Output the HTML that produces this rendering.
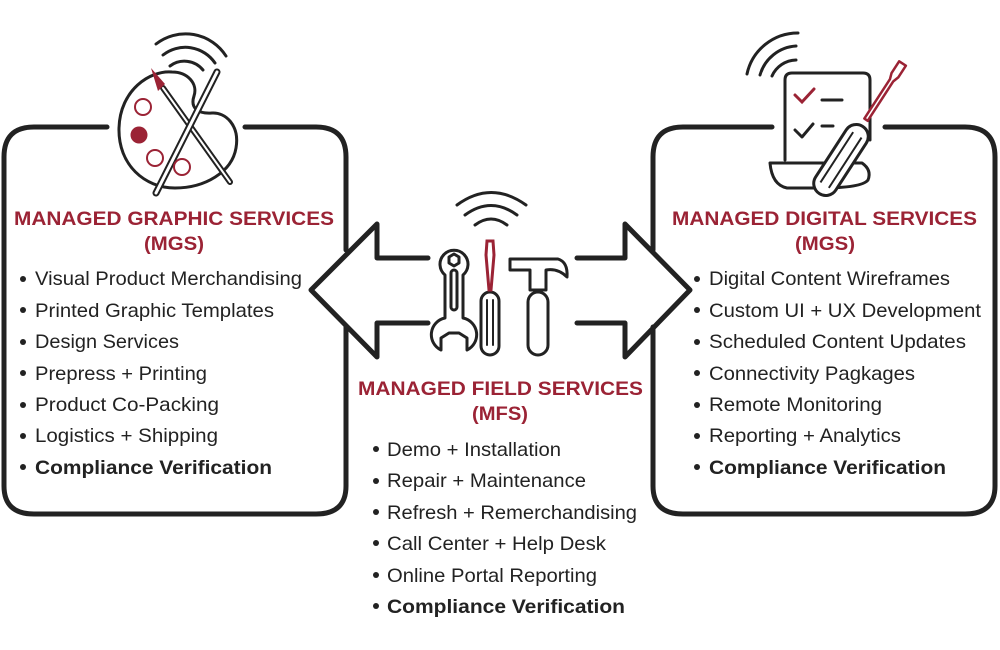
<!DOCTYPE html>
<html><head><meta charset="utf-8"><style>
html,body{margin:0;padding:0;background:#fff;width:1000px;height:650px;overflow:hidden}
text{font-family:"Liberation Sans",Arial,sans-serif}
.t{font-weight:bold;fill:#9b2335;font-size:19px}
.b{fill:#222;font-size:19.5px}
.bb{fill:#222;font-size:19.5px;font-weight:bold}
</style></head><body>
<svg width="1000" height="650" viewBox="0 0 1000 650" xmlns="http://www.w3.org/2000/svg">
<g fill="none" stroke="#222" stroke-width="5" stroke-linecap="round" stroke-linejoin="round">
<path d="M107 127 H34 Q4 127 4 157 V486 Q4 514 34 514 H316 Q346 514 346 486 V327"/>
<path d="M245 127 H316 Q346 127 346 157 V250"/>
<path d="M772 127 H683 Q653 127 653 157 V250"/>
<path d="M653 327 V486 Q653 514 683 514 H965 Q995 514 995 486 V157 Q995 127 965 127 H885"/>
<path d="M428 258 H377 V224 L311 290 L377 357 V323 H428"/>
<path d="M577 258 H625 V224 L690 290 L625 357 V323 H577"/>
</g>
<!-- left icon: palette -->
<g fill="none" stroke="#222" stroke-width="3" stroke-linecap="round">
<path d="M172 72 C150 70 120 90 119 128 C118 165 145 188 175 188 C205 188 232 172 236 148 C240 125 225 112 212 113 C198 114 190 108 194 96 C198 84 188 72 172 72 Z"/>
<path d="M156 44 A48 48 0 0 1 226 56"/>
<path d="M163 55 A36 36 0 0 1 215 63"/>
<path d="M170 66 A24 24 0 0 1 203 70"/>
<path d="M163 88 L230 182" stroke-width="6"/>
<path d="M163 88 L230 182" stroke="#fff" stroke-width="2"/>
<path d="M217 72 L156 193" stroke-width="7"/>
<path d="M217 72 L156 193" stroke="#fff" stroke-width="3"/>
</g>
<path d="M151 68 L165 84 L158 91 Z" fill="#9b2335"/>
<g fill="none" stroke="#9b2335" stroke-width="2">
<circle cx="143" cy="107" r="8"/><circle cx="155" cy="158" r="8"/><circle cx="182" cy="167" r="8"/>
</g>
<circle cx="139" cy="135" r="8.5" fill="#9b2335"/>
<!-- center tools -->
<g fill="none" stroke="#222" stroke-width="3" stroke-linecap="round" stroke-linejoin="round">
<path d="M457 205 Q491 180 526 205"/>
<path d="M465 215 Q491 196 517 215"/>
<path d="M475 225 Q491 213 507 225"/>
<path d="M445 275 A14 14 0 1 1 463 275 V318 A17 17 0 0 1 467 350 V338 L459 333 L449 333 L441 338 V350 A17 17 0 0 1 445 318 Z"/>
<rect x="451" y="270" width="6" height="40" rx="3"/>
<path d="M449 257 L454 254 L459 257 V263 L454 266 L449 263 Z"/>
<rect x="481" y="292" width="18" height="63" rx="9"/>
<path d="M487 300 V345 M493 300 V345" stroke-width="2"/>
<path d="M510 259 H558 Q568 262 567 277 Q558 268 546 270 V290 H530 V270 H510 Z"/>
<rect x="528" y="292" width="20" height="63" rx="10"/>
</g>
<path d="M487 241 H493 L494 255 L491 290 H489 L486 255 Z" fill="none" stroke="#9b2335" stroke-width="3"/>
<!-- right icon -->
<g fill="none" stroke="#222" stroke-width="3" stroke-linecap="round" stroke-linejoin="round">
<path d="M747 74 A52 52 0 0 1 798 33"/>
<path d="M760 75 A40 40 0 0 1 796 46"/>
<path d="M772 76 A27 27 0 0 1 796 60"/>
<path d="M785 160 V80 Q785 73 792 73 H863 Q870 73 870 80 V140"/>
<path d="M770 163 H862 Q872 170 868 180 Q862 188 820 188 H787 Q772 185 770 163 Z"/>
<path d="M822 100 H842 M822 126 H833"/>
<path d="M795 130 L802 137 L813 124"/>
</g>
<path d="M795 95 L802 102 L814 89" fill="none" stroke="#9b2335" stroke-width="3" stroke-linecap="round"/>
<g transform="rotate(33 884 92)">
<path d="M880 58 H888 V72 L886 78 V125 H882 V78 L880 72 Z" fill="#fff" stroke="#9b2335" stroke-width="2.5" stroke-linejoin="round"/>
</g>
<g transform="rotate(33 841 160)" fill="none" stroke="#222" stroke-width="3">
<rect x="829" y="120" width="24" height="80" rx="12" fill="#fff"/>
<path d="M836 130 V190 M846 130 V190" stroke-width="2"/>
</g>
<!-- titles -->
<text class="t" x="14" y="225" textLength="320" lengthAdjust="spacingAndGlyphs">MANAGED GRAPHIC SERVICES</text>
<text class="t" x="144" y="250" textLength="60" lengthAdjust="spacingAndGlyphs">(MGS)</text>
<text class="t" x="672" y="225" textLength="305" lengthAdjust="spacingAndGlyphs">MANAGED DIGITAL SERVICES</text>
<text class="t" x="795" y="250" textLength="60" lengthAdjust="spacingAndGlyphs">(MGS)</text>
<text class="t" x="358" y="395" textLength="285" lengthAdjust="spacingAndGlyphs">MANAGED FIELD SERVICES</text>
<text class="t" x="472" y="420" textLength="56" lengthAdjust="spacingAndGlyphs">(MFS)</text>
<g fill="#222">
<circle cx="23" cy="279" r="3"/><circle cx="23" cy="310" r="3"/><circle cx="23" cy="342" r="3"/><circle cx="23" cy="373" r="3"/><circle cx="23" cy="405" r="3"/><circle cx="23" cy="436" r="3"/><circle cx="23" cy="467" r="3"/>
<circle cx="697" cy="279" r="3"/><circle cx="697" cy="310" r="3"/><circle cx="697" cy="342" r="3"/><circle cx="697" cy="373" r="3"/><circle cx="697" cy="405" r="3"/><circle cx="697" cy="436" r="3"/><circle cx="697" cy="467" r="3"/>
<circle cx="376" cy="449" r="3"/><circle cx="376" cy="481" r="3"/><circle cx="376" cy="512" r="3"/><circle cx="376" cy="543" r="3"/><circle cx="376" cy="575" r="3"/><circle cx="376" cy="606" r="3"/>
</g>
<text class="b" x="35" y="285" textLength="267" lengthAdjust="spacingAndGlyphs">Visual Product Merchandising</text>
<text class="b" x="35" y="317" textLength="239" lengthAdjust="spacingAndGlyphs">Printed Graphic Templates</text>
<text class="b" x="35" y="348" textLength="144" lengthAdjust="spacingAndGlyphs">Design Services</text>
<text class="b" x="35" y="380" textLength="172" lengthAdjust="spacingAndGlyphs">Prepress + Printing</text>
<text class="b" x="35" y="411" textLength="184" lengthAdjust="spacingAndGlyphs">Product Co-Packing</text>
<text class="b" x="35" y="442" textLength="183" lengthAdjust="spacingAndGlyphs">Logistics + Shipping</text>
<text class="bb" x="35" y="474" textLength="237" lengthAdjust="spacingAndGlyphs">Compliance Verification</text>
<text class="b" x="709" y="285" textLength="241" lengthAdjust="spacingAndGlyphs">Digital Content Wireframes</text>
<text class="b" x="709" y="317" textLength="272" lengthAdjust="spacingAndGlyphs">Custom UI + UX Development</text>
<text class="b" x="709" y="348" textLength="257" lengthAdjust="spacingAndGlyphs">Scheduled Content Updates</text>
<text class="b" x="709" y="380" textLength="206" lengthAdjust="spacingAndGlyphs">Connectivity Pagkages</text>
<text class="b" x="709" y="411" textLength="173" lengthAdjust="spacingAndGlyphs">Remote Monitoring</text>
<text class="b" x="709" y="442" textLength="192" lengthAdjust="spacingAndGlyphs">Reporting + Analytics</text>
<text class="bb" x="709" y="474" textLength="237" lengthAdjust="spacingAndGlyphs">Compliance Verification</text>
<text class="b" x="387" y="456" textLength="174" lengthAdjust="spacingAndGlyphs">Demo + Installation</text>
<text class="b" x="387" y="487" textLength="199" lengthAdjust="spacingAndGlyphs">Repair + Maintenance</text>
<text class="b" x="387" y="519" textLength="250" lengthAdjust="spacingAndGlyphs">Refresh + Remerchandising</text>
<text class="b" x="387" y="550" textLength="219" lengthAdjust="spacingAndGlyphs">Call Center + Help Desk</text>
<text class="b" x="387" y="582" textLength="210" lengthAdjust="spacingAndGlyphs">Online Portal Reporting</text>
<text class="bb" x="387" y="613" textLength="238" lengthAdjust="spacingAndGlyphs">Compliance Verification</text>
</svg>
</body></html>
